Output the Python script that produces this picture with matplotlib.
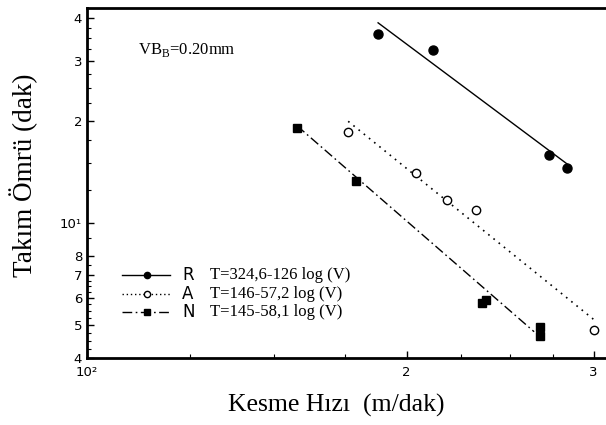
import matplotlib
matplotlib.use("Agg")
import matplotlib.pyplot as plt
import numpy as np
from matplotlib.ticker import FixedLocator, NullFormatter

# ---- data ----
R_v = [188.0, 211.9, 272.4, 283.5]
R_t = [36.0, 32.3, 15.85, 14.5]
R_fit_v = [188.0, 283.3]
R_fit_t = [38.8, 14.9]

A_v = [176.2, 204.2, 218.2, 232.3, 300.4]
A_t = [18.5, 14.0, 11.7, 10.9, 4.84]
A_fit_v = [176.2, 300.4]
A_fit_t = [19.9, 5.18]

N_v = [157.7, 179.3, 235.5, 237.7, 267.1, 267.1]
N_t = [19.0, 13.25, 5.8, 5.93, 4.95, 4.64]
N_fit_v = [157.7, 263.7]
N_fit_t = [19.3, 4.78]

series_names = ["R", "A", "N"]
series_eqs = ["T=324,6-126 log (V)", "T=146-57,2 log (V)", "T=145-58,1 log (V)"]

x_major = [100, 200, 300]
x_major_labels = ["10²", "2", "3"]
x_minor = [125, 150, 175, 225, 250, 275]
y_major = [4, 5, 6, 7, 8, 10, 20, 30, 40]
y_major_labels = ["4", "5", "6", "7", "8", "10¹", "2", "3", "4"]
y_minor = [4.25, 4.5, 4.75, 5.25, 5.5, 5.75, 6.25, 6.5, 6.75, 7.5, 9,
           12.5, 15, 17.5, 22.5, 25, 27.5, 32.5, 35, 37.5]

fig = plt.figure(figsize=(6.06, 4.25), dpi=100)
ax = fig.add_axes([87/606, 1-358/425, 1-87/606 + 0.002, (358-8)/425])
ax.set_xscale("log")
ax.set_yscale("log")
ax.set_xlim(100, 309)
ax.set_ylim(4, 42.9)

dd = (0, (7, 2.5, 1.2, 2.5))
ax.plot(R_fit_v, R_fit_t, color="black", lw=1.0, ls="-")
ax.plot(A_fit_v, A_fit_t, color="black", lw=1.2, ls=(0, (1, 3)))
ax.plot(N_fit_v, N_fit_t, color="black", lw=1.0, ls=dd)
ax.plot(R_v, R_t, "o", color="black", ms=6.5, ls="none")
ax.plot(A_v, A_t, "o", mfc="white", mec="black", mew=1.0, ms=6, ls="none")
ax.plot(N_v, N_t, "s", color="black", ms=6, ls="none")

# ticks
ax.xaxis.set_major_locator(FixedLocator(x_major))
ax.xaxis.set_minor_locator(FixedLocator(x_minor))
ax.set_xticklabels(x_major_labels)
ax.xaxis.set_minor_formatter(NullFormatter())
ax.yaxis.set_major_locator(FixedLocator(y_major))
ax.yaxis.set_minor_locator(FixedLocator(y_minor))
ax.set_yticklabels(y_major_labels)
ax.yaxis.set_minor_formatter(NullFormatter())
ax.tick_params(which="both", direction="in", top=False, right=False,
               labelsize=9.5, colors="black")
ax.tick_params(which="major", length=5, width=1)
ax.tick_params(which="minor", length=3, width=0.8)
ax.tick_params(axis="x", pad=6)

for s in ["top", "bottom", "left"]:
    ax.spines[s].set_linewidth(2.0)
ax.spines["right"].set_visible(False)

fig.text(336.5/606, 1-405/425, "Kesme Hızı  (m/dak)", family="Liberation Serif",
         fontsize=18.5, ha="center", va="center")
fig.text(24/606, 1-175/425, "Takım Ömrü (dak)", family="Liberation Serif",
         fontsize=19.5, ha="center", va="center", rotation=90)

ax.text(0.098, 0.88, "VB$_\\mathregular{B}$=0.20mm", transform=ax.transAxes,
        family="Liberation Serif", fontsize=12, va="center")

# manual legend
leg_y = [0.237, 0.184, 0.131]
styles = [dict(ls="-", marker="o", mfc="black"),
          dict(ls=(0, (1, 2)), marker="o", mfc="white"),
          dict(ls=dd, marker="s", mfc="black")]
for yy, name, eq, st in zip(leg_y, series_names, series_eqs, styles):
    ax.plot([0.0675, 0.16], [yy, yy], transform=ax.transAxes, color="black",
            lw=1.0, ls=st["ls"])
    ax.plot([0.115], [yy], transform=ax.transAxes, marker=st["marker"],
            mfc=st["mfc"], mec="black", ms=4.5, ls="none")
    ax.text(0.183, yy, name, transform=ax.transAxes, fontsize=12,
            va="center", family="DejaVu Sans")
    ax.text(0.237, yy, eq, transform=ax.transAxes, fontsize=12,
            va="center", family="Liberation Serif")

fig.savefig("out.png", dpi=100)
